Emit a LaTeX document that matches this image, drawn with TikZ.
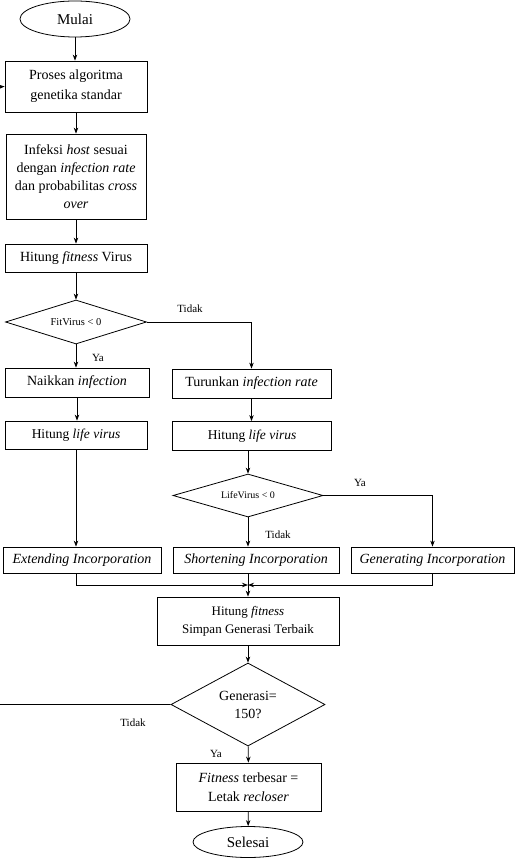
\documentclass[tikz,border=0pt]{standalone}
\usepackage{fontspec}
\setmainfont{Liberation Serif}
\usetikzlibrary{shapes.geometric,arrows.meta}
\begin{document}
\begin{tikzpicture}[x=1pt,y=-1pt,
  box/.style={draw,rectangle,inner sep=1pt,align=center,line width=0.8pt,font=\fontsize{14}{18}\selectfont},
  term/.style={draw,ellipse,inner sep=0pt,line width=0.8pt,font=\fontsize{15}{18}\selectfont},
  dec/.style={draw,diamond,inner sep=0pt,align=center,line width=0.8pt},
  arr/.style={-{Stealth[length=6pt,width=4.5pt]},line width=0.8pt},
  lbl/.style={font=\fontsize{11}{13}\selectfont}]
\useasboundingbox (0,0) rectangle (518,858);

\node[term,minimum width=110pt,minimum height=36pt] (start) at (75,19) {Mulai};
\node[box,minimum width=142pt,minimum height=51pt,font=\fontsize{14}{20}\selectfont] (proses) at (76,86.5) {Proses algoritma\\genetika standar};
\node[box,minimum width=140pt,minimum height=85pt] (infeksi) at (76,176.5) {Infeksi \textit{host} sesuai\\dengan \textit{infection rate}\\dan probabilitas \textit{cross}\\\textit{over}};
\node[box,minimum width=142pt,minimum height=28pt] (hfit) at (76,258) {Hitung \textit{fitness} Virus};
\node[dec,shape aspect=3.2,minimum width=141pt,minimum height=44pt,font=\fontsize{10.5}{12}\selectfont] (d1) at (76,322) {FitVirus < 0};
\node[box,minimum width=144pt,minimum height=29pt] (naik) at (77,382.5) {Naikkan \textit{infection}};
\node[box,minimum width=159pt,minimum height=29pt] (turun) at (251.5,383.5) {Turunkan \textit{infection rate}};
\node[box,minimum width=142pt,minimum height=28pt,font=\fontsize{13.5}{16}\selectfont] (life1) at (76,435) {Hitung \textit{life virus}};
\node[box,minimum width=159pt,minimum height=29pt,font=\fontsize{13.5}{16}\selectfont] (life2) at (252,436) {Hitung \textit{life virus}};
\node[dec,shape aspect=3.5,minimum width=150pt,minimum height=43pt,font=\fontsize{10}{12}\selectfont] (d2) at (248,495.5) {LifeVirus < 0};
\node[box,minimum width=158pt,minimum height=26pt,font=\fontsize{14}{16}\selectfont\itshape] (ext) at (82,560) {Extending Incorporation};
\node[box,minimum width=166pt,minimum height=26pt,font=\fontsize{14}{16}\selectfont\itshape] (short) at (256,560) {Shortening Incorporation};
\node[box,minimum width=163pt,minimum height=26pt,font=\fontsize{14}{16}\selectfont\itshape] (gen) at (432.5,560) {Generating Incorporation};
\node[box,minimum width=182pt,minimum height=48pt,font=\fontsize{13}{18}\selectfont] (hsimpan) at (248,621) {Hitung \textit{fitness}\\Simpan Generasi Terbaik};
\node[dec,shape aspect=1.86,minimum width=154pt,minimum height=83pt,font=\fontsize{14}{18}\selectfont] (d3) at (248,704.5) {Generasi=\\150?};
\node[box,minimum width=145pt,minimum height=48pt,font=\fontsize{14}{19}\selectfont] (fitbest) at (248.5,787) {\textit{Fitness} terbesar =\\Letak \textit{recloser}};
\node[term,minimum width=110pt,minimum height=31pt] (end) at (248,842) {Selesai};

\node[lbl] (t1) at (190,309) {Tidak};
\node[lbl] (y1) at (98,358) {Ya};
\node[lbl] (y2) at (360,483) {Ya};
\node[lbl] (t2) at (278,535) {Tidak};
\node[lbl] (t3) at (133,723) {Tidak};
\node[lbl] (y3) at (216,754) {Ya};

\coordinate (m) at (248,585);
\coordinate (fb1) at (-3,704.5);
\coordinate (fb2) at (-3,87);

\draw[arr] (start) -- (start |- proses.north);
\draw[arr] (proses) -- (infeksi);
\draw[arr] (infeksi) -- (hfit);
\draw[arr] (hfit) -- (d1);
\draw[arr] (d1) -- (d1 |- naik.north);
\draw[arr] (d1.east) -| (turun.north);
\draw[arr] (naik) -- (naik |- life1.north);
\draw[arr] (turun) -- (turun |- life2.north);
\draw[arr] (life2.south -| d2) -- (d2.north);
\draw[arr] (life1.south) -- (life1.south |- ext.north);
\draw[arr] (d2.east) -| (gen.north);
\draw[arr] (d2.south) -- (d2.south |- short.north);
\draw[arr] (life1.south |- ext.south) |- (m);
\draw[arr] (gen.south) |- (m);
\draw[arr] (short.south -| m) -- (hsimpan.north -| m);
\draw[arr] (hsimpan) -- (d3);
\draw[arr] (d3) -- (fitbest);
\draw[arr] (fitbest) -- (end);
\draw[arr] (d3.west) -- (fb1) -- (fb2) -- (proses.west);
\end{tikzpicture}
\end{document}
